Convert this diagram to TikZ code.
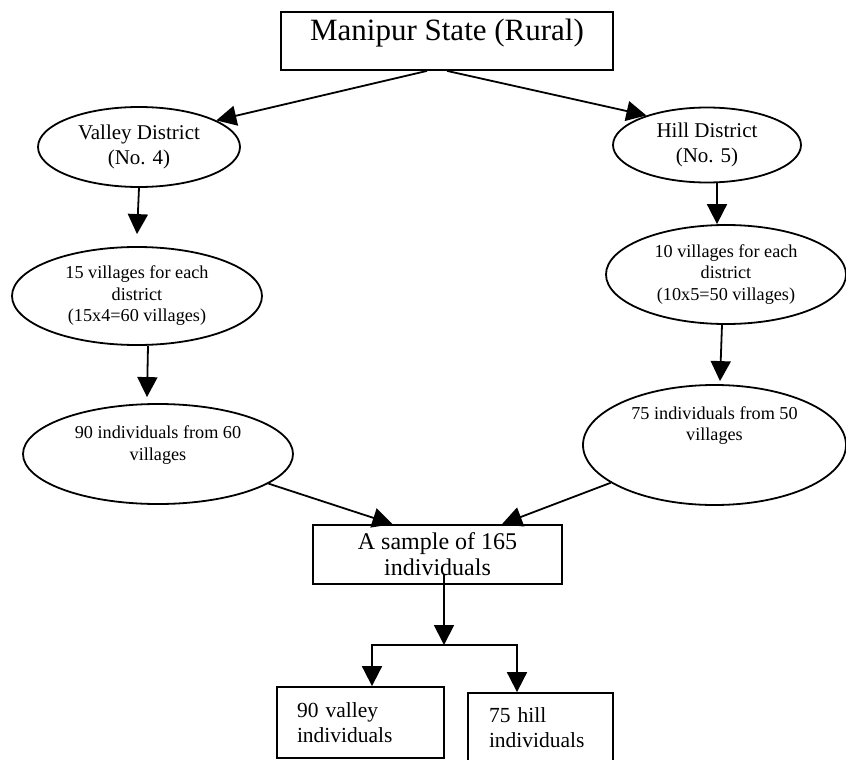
\documentclass[tikz,border=0pt]{standalone}
\usepackage{fontspec}
\setmainfont{Liberation Serif}
\usetikzlibrary{shapes.geometric,arrows.meta}
\tikzset{
  box/.style={draw, line width=1.8pt, inner sep=0pt},
  oval/.style={draw, ellipse, line width=1.8pt, inner sep=0pt, align=center,
    font=\fontsize{18.2}{21.5}\selectfont},
  district/.style={font=\fontsize{21}{25}\selectfont},
  arr/.style={line width=1.8pt, -{Triangle[length=20pt,width=20pt]}},
  arrs/.style={line width=1.8pt, {Triangle[length=20pt,width=20pt]}-{Triangle[length=20pt,width=20pt]}}
}
\begin{document}
\begin{tikzpicture}[x=1pt,y=-1pt]
\useasboundingbox (0,0) rectangle (846,760);
\node[box, minimum width=332pt, minimum height=58pt, text height=21pt, text depth=21pt,
  font=\fontsize{31}{36}\selectfont] (state) at (447,41) {Manipur State (Rural)};
\node[oval, district, minimum width=202pt, minimum height=80pt] (valley) at (139,147) {Valley District\\(No. 4)};
\node[oval, district, minimum width=188pt, minimum height=75pt] (hill) at (707,145) {Hill District\\(No. 5)};
\node[oval, minimum width=250pt, minimum height=98pt] (vvill) at (137,296) {15 villages for each\\district\\(15x4=60 villages)};
\node[oval, minimum width=240pt, minimum height=99pt] (hvill) at (726,274.5) {10 villages for each\\district\\(10x5=50 villages)};
\node[oval, minimum width=270pt, minimum height=100pt] (vind) at (158,454) {90 individuals from 60\\villages\\\mbox{}};
\node[oval, minimum width=263pt, minimum height=120pt] (hind) at (714.5,445) {75 individuals from 50\\villages\\\mbox{}\\\mbox{}};
\node[box, minimum width=249pt, minimum height=59pt, align=center,
  font=\fontsize{24}{26}\selectfont] (sample) at (437.5,554.5) {A sample of 165\\individuals};
\node[box, text width=127pt, inner xsep=20pt, minimum height=71pt, align=left,
  font=\fontsize{21.5}{25}\selectfont] (valind) at (360.5,722.5) {90 valley\\individuals};
\node[box, text width=103pt, inner xsep=21pt, minimum height=70pt, align=left,
  font=\fontsize{21.5}{25}\selectfont] (hillind) at (540.5,728) {75 hill\\individuals};
\draw[arr] ([xshift=-20pt]state.south) -- (valley.19);
\draw[arr] (state.south) -- (hill.154);
\draw[arr] (valley.south) -- ([yshift=12pt]vvill.north);
\draw[arr] ([xshift=11pt]vvill.south) -- ([xshift=-11pt,yshift=6pt]vind.north);
\draw[arr] ([xshift=10pt]hill.south) -- ([xshift=-9pt]hvill.north);
\draw[arr] ([xshift=-4pt]hvill.south) -- ([xshift=5.5pt,yshift=3pt]hind.north);
\draw[arr] (vind.-15) -- ([xshift=-45pt]sample.north);
\draw[arr] (hind.200) -- ([xshift=64.5pt]sample.north);
\coordinate (fork) at (444,645);
\coordinate (forkl) at (372,645);
\coordinate (forkr) at (517,645);
\draw[arr] ([xshift=6.5pt,yshift=11pt]sample.south) -- (fork);
\draw[arrs] (forkl |- valind.north) -- (forkl) -- (forkr) -- (forkr |- hillind.north);
\end{tikzpicture}
\end{document}
